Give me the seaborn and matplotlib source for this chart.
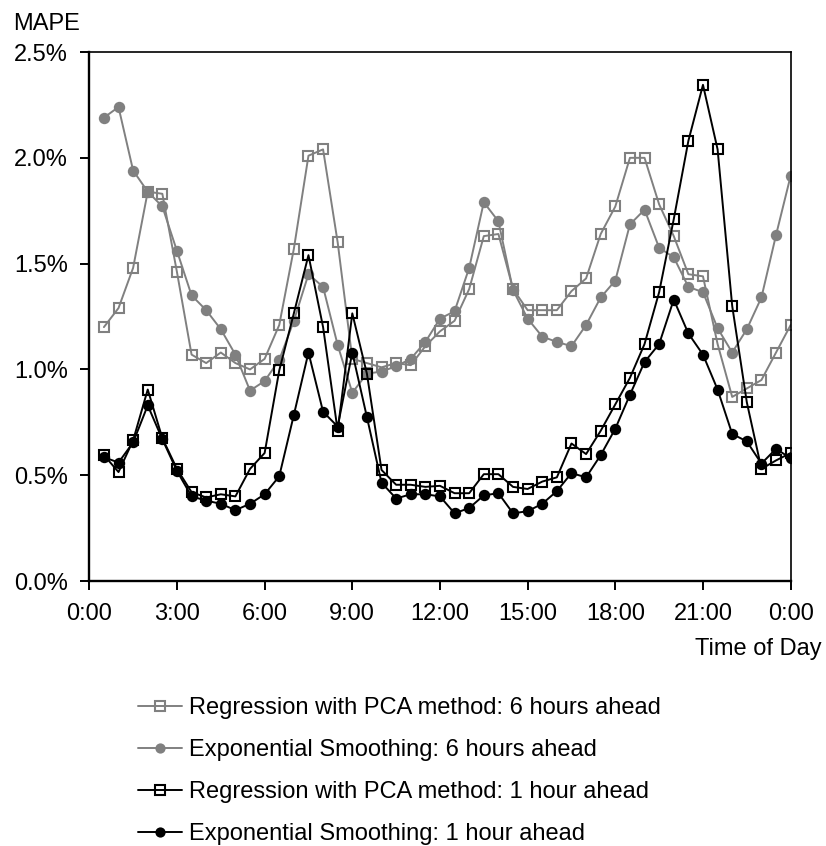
import numpy as np
import pandas as pd
import seaborn as sns
import matplotlib.pyplot as plt
from matplotlib.ticker import FuncFormatter

# half-hour slots 0:30 ... 24:00
hours = np.arange(1, 49) * 0.5

reg_pca_6h = [1.20, 1.29, 1.48, 1.84, 1.83, 1.46, 1.07, 1.03, 1.08, 1.03, 1.00, 1.05,
              1.21, 1.57, 2.01, 2.04, 1.60, 1.05, 1.03, 1.01, 1.03, 1.02, 1.11, 1.18,
              1.23, 1.38, 1.63, 1.64, 1.38, 1.28, 1.28, 1.28, 1.37, 1.43, 1.64, 1.77,
              2.00, 2.00, 1.78, 1.63, 1.45, 1.44, 1.12, 0.87, 0.91, 0.95, 1.08, 1.21]
exp_smooth_6h = [2.19, 2.24, 1.94, 1.84, 1.77, 1.56, 1.35, 1.28, 1.19, 1.07, 0.90, 0.945,
                 1.045, 1.23, 1.45, 1.39, 1.115, 0.89, 0.98, 0.99, 1.015, 1.05, 1.13, 1.24,
                 1.275, 1.48, 1.79, 1.70, 1.375, 1.24, 1.155, 1.13, 1.11, 1.21, 1.34, 1.42,
                 1.685, 1.755, 1.575, 1.53, 1.39, 1.365, 1.195, 1.08, 1.19, 1.34, 1.635, 1.915]
reg_pca_1h = [0.595, 0.515, 0.665, 0.905, 0.675, 0.53, 0.42, 0.395, 0.41, 0.40, 0.53, 0.605,
              0.995, 1.265, 1.54, 1.20, 0.71, 1.265, 0.98, 0.525, 0.455, 0.455, 0.445, 0.45,
              0.415, 0.415, 0.505, 0.505, 0.445, 0.435, 0.47, 0.49, 0.65, 0.60, 0.71, 0.835,
              0.96, 1.12, 1.365, 1.71, 2.08, 2.345, 2.04, 1.30, 0.845, 0.53, 0.57, 0.605]
exp_smooth_1h = [0.585, 0.56, 0.655, 0.83, 0.67, 0.52, 0.40, 0.38, 0.365, 0.335, 0.365, 0.41,
                 0.495, 0.785, 1.08, 0.80, 0.73, 1.08, 0.775, 0.465, 0.39, 0.41, 0.41, 0.40,
                 0.32, 0.345, 0.405, 0.415, 0.32, 0.33, 0.365, 0.425, 0.51, 0.49, 0.595, 0.72,
                 0.88, 1.035, 1.12, 1.33, 1.17, 1.07, 0.905, 0.695, 0.66, 0.555, 0.625, 0.58]

labels = ['Regression with PCA method: 6 hours ahead',
          'Exponential Smoothing: 6 hours ahead',
          'Regression with PCA method: 1 hour ahead',
          'Exponential Smoothing: 1 hour ahead']
tick_hours = list(range(0, 25, 3))
tick_labels = ['0:00', '3:00', '6:00', '9:00', '12:00', '15:00', '18:00', '21:00', '0:00']

sns.set_style('ticks')
plt.rcParams['font.family'] = ['Liberation Sans', 'DejaVu Sans']
plt.rcParams['text.color'] = 'black'

grey = '#808080'
styles = [
    (reg_pca_6h, dict(color=grey, marker='s', markersize=7.3, markerfacecolor='none',
                      markeredgecolor=grey, markeredgewidth=1.5)),
    (exp_smooth_6h, dict(color=grey, marker='o', markersize=8.2, markeredgewidth=0,
                         markerfacecolor=grey)),
    (reg_pca_1h, dict(color='black', marker='s', markersize=7.3, markerfacecolor='none',
                      markeredgecolor='black', markeredgewidth=1.5)),
    (exp_smooth_1h, dict(color='black', marker='o', markersize=8.2, markeredgewidth=0,
                         markerfacecolor='black')),
]

fig = plt.figure(figsize=(8.26, 8.46), dpi=100)
ax = fig.add_axes([0.1081, 0.3132, 0.8491, 0.6253])

for (vals, kw), lab in zip(styles, labels):
    df = pd.DataFrame({'hour': hours, 'mape': vals})
    sns.lineplot(data=df, x='hour', y='mape', ax=ax, linewidth=1.4, label=lab, legend=False, **kw)

ax.set_xlim(0, 24)
ax.set_ylim(0, 2.5)
ax.set_xticks(tick_hours)
ax.set_xticklabels(tick_labels)
ax.set_yticks(np.arange(0, 2.51, 0.5))
ax.yaxis.set_major_formatter(FuncFormatter(lambda v, _: f'{v:.1f}%'))
ax.set_xlabel('')
ax.set_ylabel('')
ax.tick_params(axis='both', labelsize=17, length=6.5, width=1.4, pad=9, colors='black')
for side in ['left', 'bottom']:
    ax.spines[side].set_linewidth(1.7)
for side in ['top', 'right']:
    ax.spines[side].set_linewidth(1.2)
for sp in ax.spines.values():
    sp.set_color('black')
    sp.set_visible(True)

fig.text(13 / 826, 1 - 30 / 846, 'MAPE', fontsize=17, va='baseline', ha='left')
fig.text(822 / 826, 1 - 655 / 846, 'Time of Day', fontsize=17, va='baseline', ha='right')

handles, labs = ax.get_legend_handles_labels()
fig.legend(handles, labs, loc='upper left', bbox_to_anchor=(138 / 826, 1 - 697 / 846),
           frameon=False, fontsize=17, handlelength=1.85, handletextpad=0.3,
           labelspacing=0.85, borderpad=0, borderaxespad=0, numpoints=1, markerscale=0.9)

fig.savefig('out.png', dpi=100)
